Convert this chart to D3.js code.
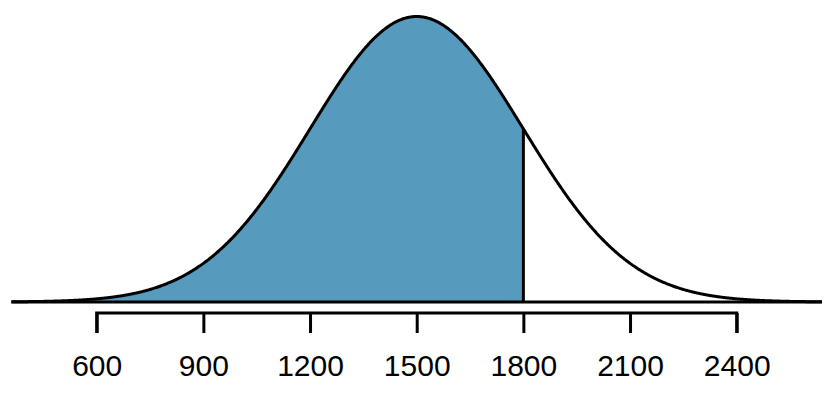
<!DOCTYPE html>
<html><head><meta charset="utf-8">
<script src="https://cdn.jsdelivr.net/npm/d3@7"></script>
<style>body{margin:0;background:#fff}svg{display:block}</style>
</head><body>
<svg id="c" width="835" height="402"></svg>
<script>
const mean = 1500;
const sd = 300;
const cutoff = 1800;
const domainLo = 360;
const domainHi = 2640;
const tickValues = [600, 900, 1200, 1500, 1800, 2100, 2400];
const tickLabels = ["600", "900", "1200", "1500", "1800", "2100", "2400"];

const svg = d3.select("#c");
const x = d3.scaleLinear().domain([600, 2400]).range([96.7, 736.7]);
const pdf = v => Math.exp(-0.5 * ((v - mean) / sd) ** 2) / (sd * Math.sqrt(2 * Math.PI));
const peak = pdf(mean);
const y = d3.scaleLinear().domain([0, peak]).range([302, 16.5]);

const xs = d3.range(domainLo, domainHi + 0.1, 2);
const pts = xs.map(v => [v, pdf(v)]);
const shade = d3.range(domainLo, cutoff + 0.01, 2).map(v => [v, pdf(v)]);
shade.push([cutoff, pdf(cutoff)]);

svg.append("path")
  .datum(shade)
  .attr("fill", "#569bbd")
  .attr("d", d3.area().x(d => x(d[0])).y0(y(0)).y1(d => y(d[1])));

svg.append("line")
  .attr("x1", x(cutoff)).attr("x2", x(cutoff))
  .attr("y1", y(0)).attr("y2", y(pdf(cutoff)))
  .attr("stroke", "#000").attr("stroke-width", 3);

svg.append("path")
  .datum(pts)
  .attr("fill", "none").attr("stroke", "#000").attr("stroke-width", 3)
  .attr("stroke-linejoin", "round")
  .attr("d", d3.line().x(d => x(d[0])).y(d => y(d[1])));

svg.append("line")
  .attr("x1", x(domainLo)).attr("x2", x(domainHi))
  .attr("y1", y(0)).attr("y2", y(0))
  .attr("stroke", "#000").attr("stroke-width", 3);

const axis = d3.axisBottom(x).tickValues(tickValues)
  .tickFormat((d, i) => tickLabels[i]).tickSize(20).tickPadding(12);
const g = svg.append("g").attr("transform", "translate(0,313)").call(axis);
g.select(".domain").attr("stroke-width", 3).attr("d", `M${x(600)},20V0H${x(2400)}V20`);
g.selectAll(".tick line").attr("stroke-width", 3);
g.selectAll(".tick text")
  .attr("y", 63).attr("dy", null)
  .attr("font-family", "Liberation Sans, Arial, sans-serif")
  .attr("font-size", 30).attr("fill", "#000");
</script>
</body></html>
